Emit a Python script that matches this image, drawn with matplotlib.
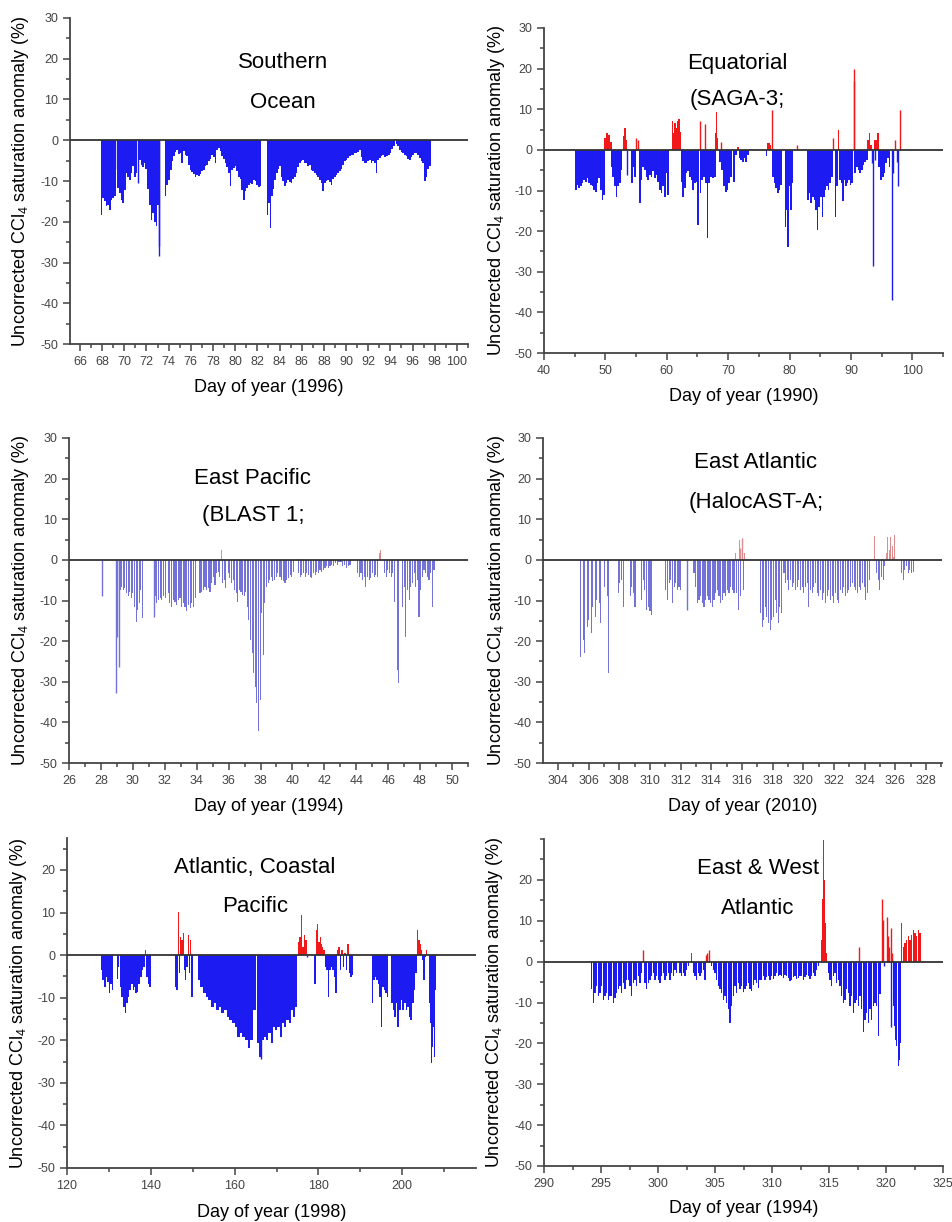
import matplotlib
matplotlib.use('Agg')
import matplotlib.pyplot as plt
from matplotlib.ticker import MultipleLocator, FixedLocator
import numpy as np

plt.rcParams['font.family'] = ['Liberation Sans', 'DejaVu Sans']
plt.rcParams['mathtext.fontset'] = 'custom'
plt.rcParams['mathtext.rm'] = 'Liberation Sans'
plt.rcParams['mathtext.default'] = 'regular'
plt.rcParams['axes.unicode_minus'] = False

# each run: (first day, last day, anomaly values sampled across the run)
# spikes: single thin bars (day, anomaly)

# --- Southern Ocean (1996)
so_runs = [
    (67.95, 69.15, [-18.3, -14.2, -15, -16.2, -15.8, -17, -14.6, -14.2, -13.8]),
    (69.45, 70.2, [-11.7, -13, -14.6, -15.4, -12.1, -8]),
    (70.36, 71.11, [-9, -9.7, -8, -6.4, -9, -8]),
    (71.26, 72.1, [-5, -4.8, -6, -6.5, -5.5, -7, -8.9]),
    (72.16, 73.06, [-12, -16, -19.5, -17.8, -20, -21, -16]),
    (73.72, 74.2, [-13.8, -10.9, -9.7, -7.2]),
    (74.32, 75.68, [-5, -3.9, -2.8, -2.3, -3.3, -3.1, -5.6, -2.7, -3.5, -3.9]),
    (75.83, 77.18, [-6, -7.2, -7.8, -8.3, -8.9, -8.5, -8.8, -8.2, -7.5, -7.2]),
    (77.33, 78.68, [-6.4, -6, -5.2, -4.5, -3.5, -4, -5.6, -2.5, -1.9, -2.7]),
    (78.83, 80.48, [-3.9, -4.5, -5.6, -6.5, -8, -11.3, -7.2, -6.8, -6.4, -7.5, -8.9, -9.5]),
    (80.64, 82.29, [-12.1, -14.6, -12.5, -11.7, -11, -10.5, -10.8, -9.7, -10, -10.9, -11.5, -11.3]),
    (82.92, 84.03, [-18.3, -15.4, -21.6, -13.8, -12, -9.7, -8, -7, -6.4]),
    (84.18, 85.84, [-8.9, -10, -11.3, -10.5, -9.7, -10.2, -10.5, -9.5, -8.9, -8, -6.5, -5.6]),
    (85.99, 87.64, [-5, -4.8, -5.6, -5.5, -6.4, -6, -7.2, -7.5, -8, -8.5, -9, -9.7]),
    (87.79, 89.44, [-10.5, -12.5, -10.5, -10, -9.7, -10.2, -10.9, -9.5, -8.9, -8.5, -8, -7.6]),
    (89.59, 91.25, [-7, -6, -5.2, -4.8, -4.3, -3.9, -3.6, -3.5, -3.2, -3.1, -2.8, -2.3]),
    (91.4, 93.05, [-4, -5.2, -5.6, -5.6, -5, -4.8, -5.5, -5.2, -5.6, -8, -4.8, -4.3]),
    (93.2, 94.34, [-3.8, -3.5, -4.2, -3.9, -3.5, -3.1, -2.2, -1.5]),
    (94.4, 95.45, [0.3, -1, -1.5, -2.3, -2.8, -3.1, -3.5, -3.9]),
    (95.6, 96.96, [-4.5, -4.8, -4, -3.5, -3.2, -3.1, -3.6, -4.3, -5, -5.6]),
    (97.11, 97.56, [-10.1, -8.9, -7, -6.4]),
]
so_spike_days = [69.3, 71.2, 73.1, 73.15]
so_spike_vals = [-7, -10.5, -26, -28.5]

# --- Equatorial, SAGA-3 (1990)
eq_runs = [
    (45.2, 49.8, [-9.9, -8.6, -9.4, -9, -8.2, -7.4, -7.8, -7, -8.2, -8.6, -9, -9.9,
                  -10.3, -8.2, -7, -9.9, -12.3, -11]),
    (49.9, 50.9, [2.9, 4.1, 3.7, 2]),
    (51.0, 52.6, [-4.1, -6.6, -9, -11.5, -9, -8.2, -4.9]),
    (53.0, 53.4, [3.3, 5.3, 2.5]),
    (54.3, 54.8, [-8.2, -4.1, -6.6]),
    (55.6, 60.2, [-13.1, -7.4, -4.1, -4.9, -6.6, -7.4, -6.2, -6.6, -5.3, -7, -6.2, -7.8,
                  -9.9, -10.7, -9, -11.5, -5.7, -11]),
    (60.9, 62.2, [7, 4.1, 6.6, 5.3, 7.2, 7.6, 4.5]),
    (62.4, 65.1, [-7.8, -11.5, -9.4, -5.7, -5.3, -6.6, -7.4, -9.9, -8.2, -7.8, -18.5]),
    (65.5, 67.8, [-10.7, -7.4, -6.6, -8.2, -21.8, -8.2, -6.6, -7, -6.6]),
    (67.9, 68.3, [4.1, 9.4, 2.9]),
    (68.7, 70.5, [-2.9, -4.9, -9, -10.3, -9.9, -8.2, -6.6]),
    (71.0, 73.2, [-7.8, -1.2, 0.8, -2, -2.5, -2.9, -2, -2.9, -1.2]),
    (76.3, 76.9, [-1.6, 1.6, 1.6, 1.2]),
    (77.3, 78.6, [-6.6, -8.2, -9.4, -10.7, -9.9, -8.6]),
    (79.3, 80.5, [-18.9, -14.8, -23.8, -9, -14.8, -8.2]),
    (83.0, 86.9, [-12.3, -10.7, -13.1, -11.5, -12.3, -14.8, -19.7, -14, -11.5, -16.4,
                  -11.5, -9.9, -9, -9.9, -8.2, -6.6]),
    (87.5, 90.2, [-16.4, -9, 4.9, -7.4, -8.2, -12.7, -7.4, -9, -8.2, -7.4, -8.6, -8.2]),
    (90.7, 92.6, [-5.7, -4.1, -4.9, -5.7, -4.9, -3.7, -2.9, -2.5]),
    (92.8, 93.3, [2.5, 4.1, 1.2]),
    (94.0, 94.4, [2.5, 4.1]),
    (94.6, 96.3, [-4.1, -7.4, -6.6, -5.7, -3.3, -2, -4.1]),
]
eq_spike_days = [53.6, 55.0, 55.3, 65.4, 66.2, 68.9, 77.2, 81.2, 87.1, 90.45, 90.55,
                 93.5, 93.65, 93.9, 96.7, 96.85, 97.2, 97.5, 97.65, 98.0]
eq_spike_vals = [-6.2, 2.9, 2.5, 7, 6.4, 2, 9.8, 1.2, 2.9, 20, 17,
                 -3.3, -28.7, -2.5, -36.9, -5.7, 2.5, -3, -9, 9.9]

# --- East Pacific, BLAST 1 (1994)
ep_runs = [
    (29.2, 30.6, [-7.4, -6.6, -7.4, -7, -8.2, -9, -7.8, -9.4, -8.2, -11.5, -15.2, -12.3,
                  -10.7, -7.4, -14.4]),
    (31.39, 32.02, [-9, -10.7, -9.9, -9.4, -9.9, -9, -9.4]),
    (32.22, 33.9, [-8.2, -10.7, -11.5, -9.9, -10.3, -11.1, -9.9, -9.4, -11.5, -10.7,
                   -11.5, -12.7, -11.1, -11.9, -10.7, -11.5, -9.4]),
    (34.21, 35.15, [-8.2, -7.8, -7.4, -6.6, -7.4, -7, -7.8, -5.7, -4.1, -6.2]),
    (35.25, 35.82, [-3.3, -2.9, -4.1, 2.5, -5.7, -4.9, -7]),
    (35.98, 37.97, [-3.3, -4.5, -5.7, -4.9, -7.4, -8.2, -10.3, -7.4, -7.8, -8.6, -9,
                    -7.8, -11.5, -14.8, -19.7, -23, -27.9, -31.2, -35.3, -42, -34.5]),
    (38.07, 39.08, [-13.1, -23.4, -10.7, -6.6, -5.7, -4.9, -4.1, -5.3, -4.9, -4.1, -3.3]),
    (39.22, 40.06, [-4.1, -4.9, -5.3, -5.7, -4.9, -4.5, -3.7, -4.1, -2.9]),
    (40.27, 42.25, [0.2, -3.3, -4.1, -3.7, -3.3, -4.1, -3.3, -3.7, -4.1, -4.5, -3.3,
                    -3.7, -2.9, -3.3, -2.5, -2.9, -2.5, -2.1, -1.6, -2.1]),
    (42.35, 43.61, [-1.6, -1.2, -1.6, -0.8, -1.2, -0.6, -0.4, -1.6, -1.2, -2.1, -1.6, -1.2]),
    (44.09, 45.32, [-3.3, -4.1, -3.3, -4.9, -4.1, -6.6, -4.1, -4.9, -4.5, -3.3, -4.1,
                    -3.7, -4.1]),
    (45.45, 45.61, [1.6, 2.5, 4.9]),
    (45.76, 46.39, [-3.3, -4.1, -2.5, -3.3, -4.1, -3.3, -10.3]),
    (46.6, 46.8, [-27.1, -30.4, -37.8, -22.2]),
    (46.89, 48.87, [-11.5, -6.6, -18.9, -7.4, -9.9, -6.6, -5.7, -3.3, -6.6, -4.9, -14,
                    -7.4, -4.1, -2.5, -3.3, -4.1, -4.9, -3.3, -11.5, -2.5]),
]
ep_spike_days = [28.05, 28.92, 28.99, 29.13, 31.3]
ep_spike_vals = [-9, -32.8, -18.9, -26.3, -14]

# --- East Atlantic, HalocAST-A (2010)
ea_runs = [
    (305.48, 306.78, [-23.8, -15.6, -19.7, -23, -14, -16.4, -14.8, -13.1, -18.1, -11.5,
                      -17.2, -14, -9.9, -16.4, -10.7, -15.6]),
    (307.04, 307.3, [-6.6, 6, -9, -27.9]),
    (307.93, 308.26, [-8.2, -5.7, -4.9, -11.5]),
    (308.7, 309.02, [-9, -6.6, -8.2, -11.5]),
    (309.45, 310.11, [-9.9, -4.9, -7.4, -12.3, -11.5, -12.7, -13.5]),
    (311.04, 312.0, [-7.4, -9.9, -5.7, -4.9, -10.7, -6.6, -5.7, -7.4, -6.6, -7.4]),
    (312.87, 315.48, [-3.3, -6.6, -10.7, -9.9, -9, -10.7, -11.5, -9.9, -9, -9.9, -10.7,
                      -11.5, -9.9, -8.2, -7.4, -9, -10.7, -9.9, -8.2, -9, -7.4, -8.2,
                      -6.6, -7.4, -8.2]),
    (315.58, 316.26, [1.6, -8.2, -12.3, 4.9, -9, 1.6, -7.4, 1.6, -6.6]),
    (317.21, 318.58, [-13.1, -16.4, -14.8, -11.5, -14, -15.6, -17.2, -14.8, -14, -9.9,
                      -13.1, -15.6, -11.5, -13.1]),
    (318.74, 319.93, [-3.3, -5.7, -4.9, -7.4, -4.9, -6.6, -5.7, -7.4, -6.6, -4.9, -7.4, -6.6]),
    (320.04, 321.67, [-8.2, -6.6, -5.7, -11.5, -7.4, -8.2, -6.6, -5.7, -8.2, -9, -7.4,
                      -9.9, -8.2, -10.7, -9, -7.4]),
    (321.78, 323.19, [-9.9, -9, -10.7, -8.2, -9.9, -10.7, -7.4, -8.2, -6.6, -9, -8.2,
                      -7.4, -6.6, -5.7]),
    (323.32, 324.3, [-6.6, -7.4, -8.2, -6.6, -7.4, -5.7, -6.6, -9.9, -8.2, -4.9]),
    (324.48, 324.63, [2.5, 4.1, 5.8]),
    (324.78, 325.32, [-3.3, -4.9, -7.4, -4.1, -4.9, -1.6]),
    (325.43, 325.98, [1.6, 5.7, 2.5, 5.7, 3.3, 0.8, 6.2]),
    (326.41, 327.17, [-3.3, -4.9, -2.5, -1.6, -3.3, -2.5, -3.3, -2.9]),
]
ea_spike_days = [312.39, 315.85, 316.0]
ea_spike_vals = [-12.3, 3.0, 5.5]

# --- Atlantic, Coastal Pacific (1998)
ac_runs = [
    (128.27, 130.9, [-3.5, -5.9, -7.4, -5.1, -6.3, -9, -6.7, -8.2]),
    (132.01, 132.25, [-5.5, -2.7]),
    (132.81, 135.83, [-7.4, -9.8, -12.1, -13.7, -11.3, -9.8, -8.2, -6.7, -8.2]),
    (136.07, 137.26, [-7.4, -9, -8.6, -6.7]),
    (137.66, 139.81, [-5.1, -3.5, -2.7, 1.2, -5.1, -6.7, -7.4]),
    (145.94, 149.83, [-7.4, -8.2, 10.2, -4.3, 4.3, 3.5, 5.1, -3.5, -5.9, -2.7, 4.7, -4.3,
                      3.5, -9.8]),
    (151.5, 164.71, [-5.9, -7.4, -9, -9.8, -10.6, -12.1, -11.3, -12.9, -12.1, -13.7,
                     -12.9, -14.5, -15.3, -16, -16.8, -19.2, -18.4, -19.2, -20, -21.9,
                     -20, -12.9]),
    (165.66, 174.73, [-20.7, -23.9, -20, -19.2, -20, -18.4, -20.7, -16.8, -17.6, -16.8,
                      -19.2, -16, -16.8, -15.3, -16, -12.9, -14.5, -12.1]),
    (175.21, 177.04, [3.1, 4.3, 9.4, 2, 4.7, 3.5]),
    (179.19, 181.34, [-6.7, 5.9, 7.4, 3.1, 4.3, 2.7, 2, 1.2]),
    (181.73, 188.1, [-2.7, -3.5, -9.8, -3.5, -2.7, -3.5, -5.1, -9, 1.2, 2, -3.5, 1.2,
                     -2.7, 0.4, -3.5, 2.7, -4.3, -5.1, -4.7]),
    (192.95, 196.53, [-11.3, -5.9, -5.1, -5.9, -6.7, -9.8, -16.8, -7.4, -8.2, -9, -9.8]),
    (197.49, 203.29, [-11.3, -12.9, -14.5, -11.3, -16.8, -12.9, -10.6, -12.9, -11.3,
                      -12.9, -12.1, -14.5, -15.3, -11.3, -8.2, -4.3]),
    (203.69, 204.65, [5.9, 3.5, 2.7, 1.2]),
    (204.89, 205.52, [-1.2, -5.9, -0.4]),
    (205.76, 205.92, [1.2, 9]),
    (206.4, 207.83, [-11.3, -16, -25.4, -21.5, -16.8, -23.9, -8.2]),
]
ac_spike_days = [166.2, 177.2]
ac_spike_vals = [-24.5, -0.4]

# --- East & West Atlantic (1994)
ew_runs = [
    (294.18, 298.57, [-6.8, -10.1, -7.7, -6, -8.5, -7.7, -6, -9.3, -8.5, -7.7, -9.3, -8.5,
                      -8.5, -10.1, -8.9, -7.7, -6.8, -6, -7.7, -5.2, -6.8, -4.4, -4.4, -6,
                      -8.5, -5.2, -4.4, -6, -3.6, -5.2, -2.8]),
    (298.86, 301.64, [-5.2, -6.8, -5.2, -4.4, -3.6, -2.8, -4.4, -3.6, -4.4, -5.2, -3.6,
                      -2.8, -4.4, -3.6, -2.8, -4.4, -2.8, -3.6, -2, -2.8]),
    (301.93, 302.66, [-2.8, -3.6, -2.8, -3.6, -2, -1.1]),
    (302.81, 302.9, [1.7, 2.1]),
    (303.1, 304.12, [-2.8, -3.6, -4.4, -2.8, -3.6, -2.8, -2, -4.4]),
    (304.71, 306.76, [-1.1, -2, -2.8, -4.4, -6, -6.8, -7.7, -9.3, -8.5, -10.1, -11.7, -15,
                      -10.9, -8.5, -6]),
    (306.9, 314.07, [-7.7, -5.2, -6.8, -6, -7.5, -6.8, -6, -5.2, -6.8, -7.2, -5.8, -4.4,
                     -5.2, -6.4, -4.6, -4.4, -3.6, -4.4, -3.8, -3.6, -4.4, -3.6, -4.2,
                     -3.6, -2.8, -3.6, -3.2, -3.6, -4, -3.2, -3.6, -4.1, -4.8, -4.5, -3.8,
                     -3.6, -4.2, -4, -3.4, -3.6, -4.4, -3.8, -3.2, -3.6, -4.2, -3.4, -2.8,
                     -3.6, -2, -1.1]),
    (314.36, 314.8, [5.4, 15.2, 29.8, 20, 9.5, 2.1]),
    (314.94, 319.48, [-2.8, -4.4, -6, -3.6, -2.8, -5.2, -4.4, -6, -8.5, -10.1, -9.3, -6.8,
                      -7.7, -10.9, -8.5, -12.6, -10.1, -9.3, -10.9, -8.5, -11.7, -17.1,
                      -14.2, -12.6, -15, -11.7, -14.2, -10.9, -10.1, -10.9, -18.3, -8]),
    (320.65, 321.26, [-10.9, -15.8, -19.1, -20.7, -25.6, -24, -19.9]),
    (321.38, 322.98, [9.5, 3.7, 4.6, 5.4, 6.2, 5.4, 6.6, 7.8, 7, 6.2, 7.8, 7]),
]
ew_spike_days = [298.66, 304.21, 304.33, 304.5, 317.66, 319.62, 319.71, 319.83,
                 320.06, 320.18, 320.29, 320.41, 320.45, 320.53]
ew_spike_vals = [2.9, 1.7, 2.1, 2.9, 3.7, 15.2, 10.3, -1.1, 11, 6.2, 3.7, 8.2, -16, 2.1]

W, H = 952, 1222
fig = plt.figure(figsize=(W / 100, H / 100), dpi=100)


def add_axes(left, right, top, bottom):
    return fig.add_axes([left / W, 1 - bottom / H, (right - left) / W, (bottom - top) / H])


def draw(ax, runs, spike_days, spike_vals, blue, red, fill):
    for start, end, vals in runs:
        vals = np.array(vals, dtype=float)
        x = np.linspace(start, end, len(vals))
        w = (end - start) / max(len(vals) - 1, 1) * fill
        ax.bar(x, vals, width=w, color=np.where(vals > 0, red, blue), linewidth=0)
    sv = np.array(spike_vals, dtype=float)
    ax.vlines(spike_days, 0, sv, colors=np.where(sv > 0, red, blue), lw=1.0)


def style(ax, xlim, ylim, xmaj, xmin, year, ylab_x, xlab_y, yticks_top=30):
    ax.set_xlim(*xlim)
    ax.set_ylim(*ylim)
    ax.axhline(0, color='#333333', lw=1.3, zorder=3)
    for s in ['top', 'right']:
        ax.spines[s].set_visible(False)
    for s in ['left', 'bottom']:
        ax.spines[s].set_color('#444444')
        ax.spines[s].set_linewidth(1.3)
    ax.xaxis.set_major_locator(MultipleLocator(xmaj))
    ax.xaxis.set_minor_locator(MultipleLocator(xmin))
    ax.yaxis.set_major_locator(FixedLocator(np.arange(-50, yticks_top + 1, 10)))
    ax.yaxis.set_minor_locator(MultipleLocator(5))
    ax.tick_params(which='both', direction='out', color='#444444', width=1.1,
                   labelsize=9, labelcolor='#444444')
    ax.tick_params(which='major', length=5)
    ax.tick_params(which='minor', length=3)
    ax.set_ylabel('Uncorrected CCl$_4$ saturation anomaly (%)', fontsize=13)
    ax.yaxis.set_label_coords(ylab_x, 0.5)
    ax.set_xlabel('Day of year (%d)' % year, fontsize=13)
    ax.xaxis.set_label_coords(0.5, xlab_y)


def title(x, y1, y2, line1, line2):
    fig.text(x / W, 1 - y1 / H, line1, ha='center', va='center', fontsize=16)
    fig.text(x / W, 1 - y2 / H, line2, ha='center', va='center', fontsize=16)


blue_dark, red_dark = '#1c1cf2', '#f01818'
blue_light, red_light = '#7272d8', '#e08c8c'

ax1 = add_axes(70, 468, 18, 344)
draw(ax1, so_runs, so_spike_days, so_spike_vals, blue_dark, red_dark, 1.0)
style(ax1, (65.1, 101), (-50, 30), 2, 1, 1996, -0.098, -0.107)
title(283, 63, 103, 'Southern', 'Ocean')

ax2 = add_axes(544, 943, 28, 353)
draw(ax2, eq_runs, eq_spike_days, eq_spike_vals, blue_dark, red_dark, 1.0)
style(ax2, (40, 105), (-50, 30), 10, 5, 1990, -0.093, -0.108)
title(737, 63, 100, 'Equatorial', '(SAGA-3;')

ax3 = add_axes(69, 468, 438, 763)
draw(ax3, ep_runs, ep_spike_days, ep_spike_vals, blue_light, red_light, 0.65)
style(ax3, (26, 51), (-50, 30), 2, 1, 1994, -0.095, -0.108)
title(253, 478, 515, 'East Pacific', '(BLAST 1;')

ax4 = add_axes(543, 942, 438, 763)
draw(ax4, ea_runs, ea_spike_days, ea_spike_vals, blue_light, red_light, 0.65)
style(ax4, (303.02, 329.05), (-50, 30), 2, 1, 2010, -0.09, -0.108)
title(756, 463, 503, 'East Atlantic', '(HalocAST-A;')

ax5 = add_axes(67, 476, 838, 1168)
draw(ax5, ac_runs, ac_spike_days, ac_spike_vals, blue_dark, red_dark, 1.0)
style(ax5, (120, 217.6), (-50, 27.5), 20, 10, 1998, -0.093, -0.11, yticks_top=20)
title(255, 867, 907, 'Atlantic, Coastal', 'Pacific')

ax6 = add_axes(544, 943, 839, 1166)
draw(ax6, ew_runs, ew_spike_days, ew_spike_vals, blue_dark, red_dark, 0.9)
style(ax6, (290, 325), (-50, 30), 5, 2.5, 1994, -0.098, -0.104, yticks_top=20)
title(758, 869, 908, 'East & West', 'Atlantic')

fig.savefig('out.png', dpi=100)
